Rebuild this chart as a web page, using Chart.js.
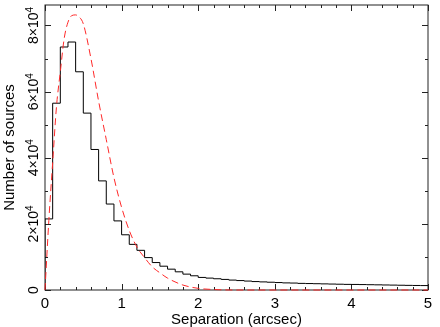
<!DOCTYPE html>
<html>
<head>
<meta charset="utf-8">
<script src="https://cdn.jsdelivr.net/npm/chart.js@4.4.1/dist/chart.umd.min.js"></script>
<style>
html, body { margin: 0; padding: 0; background: #fff; }
#wrap { width: 440px; height: 327px; }
</style>
</head>
<body>
<div id="wrap"><canvas id="chart" width="440" height="327"></canvas></div>
<script>
/* Separation histogram with model curve */

const binWidth = 0.1;
// counts per 0.1 arcsec bin, 0 .. 5 arcsec
const histCounts = [
    21500, 56500, 73500, 75000, 66000, 53500, 42500, 33000, 26000, 20900,
    16700, 13800, 12000, 9800, 8300, 7200, 6300, 5500, 4800, 4300,
    3800, 3600, 3400, 3200, 3000, 2850, 2700, 2550, 2450, 2350,
    2250, 2150, 2100, 2000, 1950, 1900, 1850, 1800, 1750, 1700,
    1680, 1640, 1600, 1560, 1520, 1480, 1440, 1400, 1370, 1340
];

// model curve (red dashed)
const modelX = [0, 0.05, 0.1, 0.15, 0.2, 0.25, 0.3, 0.35, 0.4, 0.45, 0.5, 0.6, 0.7, 0.8, 0.9,
    1.0, 1.1, 1.2, 1.3, 1.4, 1.5, 1.6, 1.8, 2.0, 2.2, 2.5, 3, 4, 5];
const modelY = [0, 21000, 38500, 55500, 66000, 76000, 81000, 83000, 83200, 82500, 80500, 70000, 57100, 45500, 34000,
    25000, 18000, 13000, 9800, 7000, 5200, 3600, 1500, 500, 150, 0, 0, 0, 0];

const xTickLabels = ['0', '1', '2', '3', '4', '5'];
const yTickMantissa = [0, 2, 4, 6, 8];

const FONT = "'Liberation Sans', Arial, Helvetica, sans-serif";

const histPoints = [{ x: 0, y: 0 }];
histCounts.forEach((c, i) => histPoints.push({ x: +(i * binWidth).toFixed(2), y: c }));
histPoints.push({ x: histCounts.length * binWidth, y: histCounts[histCounts.length - 1] });

const modelPoints = modelX.map((x, i) => ({ x, y: modelY[i] }));

// ── Frame, ticks and labels ──────────────────────────────────────────────

const framePlugin = {
    id: 'frame',
    beforeDatasetsDraw(chart) {
        const ctx = chart.ctx;
        const xs = chart.scales.x;
        const ys = chart.scales.y;
        const a = chart.chartArea;

        ctx.save();
        ctx.strokeStyle = '#222';
        ctx.lineWidth = 1;
        ctx.strokeRect(a.left, a.top, a.right - a.left, a.bottom - a.top);

        ctx.beginPath();
        // x ticks every 0.2, major at integers
        for (let k = 0; k <= 25; k++) {
            const v = k * 0.2;
            const px = Math.round(xs.getPixelForValue(v)) + 0.5;
            const len = (k % 5 === 0) ? 6 : 3;
            ctx.moveTo(px, a.bottom); ctx.lineTo(px, a.bottom - len);
            ctx.moveTo(px, a.top); ctx.lineTo(px, a.top + len);
        }
        // y ticks every 1e4, major every 2e4
        for (let k = 0; k <= 8; k++) {
            const py = Math.round(ys.getPixelForValue(k * 10000)) + 0.5;
            const len = (k % 2 === 0) ? 6 : 3;
            ctx.moveTo(a.left, py); ctx.lineTo(a.left + len, py);
            ctx.moveTo(a.right, py); ctx.lineTo(a.right - len, py);
        }
        ctx.stroke();

        ctx.fillStyle = '#000';
        ctx.textBaseline = 'alphabetic';

        // x tick labels
        ctx.font = '15px ' + FONT;
        ctx.textAlign = 'center';
        xTickLabels.forEach((t, i) => {
            ctx.fillText(t, xs.getPixelForValue(i), 308);
        });
        ctx.fillText('Separation (arcsec)', (a.left + a.right) / 2, 324);

        // y tick labels, rotated
        ctx.textAlign = 'left';
        yTickMantissa.forEach(m => {
            const py = ys.getPixelForValue(m * 10000);
            const main = m === 0 ? '0' : m + '\u00d710';
            ctx.font = '14px ' + FONT;
            const wMain = ctx.measureText(main).width;
            ctx.font = '10px ' + FONT;
            const wSup = m === 0 ? 0 : ctx.measureText('4').width;
            ctx.save();
            ctx.translate(37.5, py);
            ctx.rotate(-Math.PI / 2);
            const start = -(wMain + wSup) / 2;
            ctx.font = '14px ' + FONT;
            ctx.fillText(main, start, 0);
            if (m !== 0) {
                ctx.font = '10px ' + FONT;
                ctx.fillText('4', start + wMain, -5);
            }
            ctx.restore();
        });

        // y title
        ctx.save();
        ctx.translate(14, (a.top + a.bottom) / 2);
        ctx.rotate(-Math.PI / 2);
        ctx.font = '15px ' + FONT;
        ctx.textAlign = 'center';
        ctx.fillText('Number of sources', 0, 0);
        ctx.restore();

        ctx.restore();
    }
};

new Chart(document.getElementById('chart'), {
    type: 'line',
    data: {
        datasets: [
            {
                label: 'model',
                data: modelPoints,
                borderColor: 'rgb(255, 40, 40)',
                borderWidth: 1,
                borderDash: [7, 4],
                pointRadius: 0,
                cubicInterpolationMode: 'monotone',
                fill: false,
                clip: 2,
            },
            {
                label: 'histogram',
                data: histPoints,
                borderColor: '#000',
                borderWidth: 1,
                stepped: 'before',
                pointRadius: 0,
                fill: false,
            },
        ],
    },
    options: {
        responsive: false,
        animation: false,
        devicePixelRatio: 1,
        layout: { padding: { top: 5, right: 12, left: 0, bottom: 0 } },
        plugins: {
            legend: { display: false },
            tooltip: { enabled: false },
        },
        scales: {
            x: {
                type: 'linear',
                min: 0,
                max: 5,
                grid: { display: false },
                border: { display: false },
                ticks: { display: false },
                afterFit: s => { s.height = 37; },
            },
            y: {
                type: 'linear',
                min: 0,
                max: 86200,
                grid: { display: false },
                border: { display: false },
                ticks: { display: false },
                afterFit: s => { s.width = 45; },
            },
        },
    },
    plugins: [framePlugin],
});
</script>
</body>
</html>
